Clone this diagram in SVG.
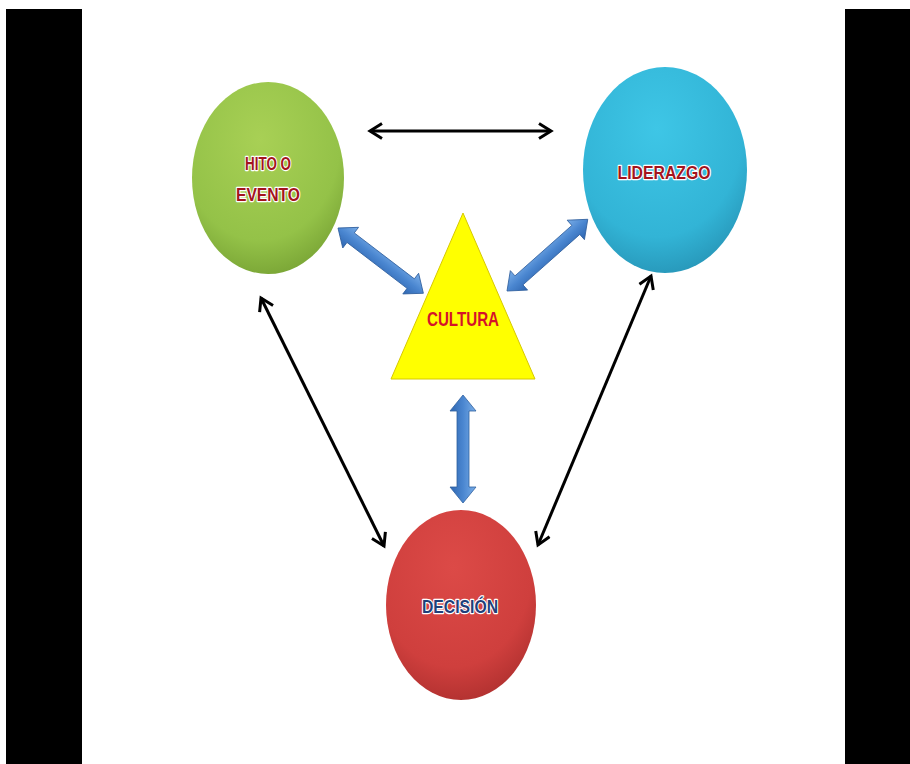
<svg xmlns="http://www.w3.org/2000/svg" width="910" height="764" viewBox="0 0 910 764">
<style>
.lbl{font-family:"Liberation Sans",Arial,sans-serif;font-weight:bold;font-size:19px;text-anchor:middle;stroke:#ffffff;stroke-width:2.4px;paint-order:stroke;stroke-linejoin:round}
.red{fill:#a3141c}
.navy{fill:#1f3f7a}
.conn{fill:none;stroke:#000;stroke-width:3}
.blk{fill:url(#gBlue);stroke:#2f5f9e;stroke-width:0.8}
</style>
<defs>
<radialGradient id="gGreen" cx="0.45" cy="0.3" r="0.75">
<stop offset="0" stop-color="#a8d055"/><stop offset="0.7" stop-color="#94c248"/><stop offset="1" stop-color="#76a133"/>
</radialGradient>
<radialGradient id="gCyan" cx="0.45" cy="0.3" r="0.75">
<stop offset="0" stop-color="#3ec6e6"/><stop offset="0.7" stop-color="#32b4d6"/><stop offset="1" stop-color="#2693b5"/>
</radialGradient>
<radialGradient id="gRed" cx="0.45" cy="0.3" r="0.75">
<stop offset="0" stop-color="#dc4a47"/><stop offset="0.7" stop-color="#cf3f3d"/><stop offset="1" stop-color="#ad2f2e"/>
</radialGradient>
<linearGradient id="gBlue" x1="0" y1="0" x2="0" y2="1">
<stop offset="0" stop-color="#7aaee8"/><stop offset="0.5" stop-color="#4a86d0"/><stop offset="1" stop-color="#2f66b0"/>
</linearGradient>
<marker id="ah" viewBox="0 0 12 12" refX="10" refY="6" markerWidth="6" markerHeight="6" orient="auto-start-reverse" markerUnits="strokeWidth">
<polyline points="2,1 10,6 2,11" fill="none" stroke="#000" stroke-width="2" stroke-linejoin="miter"/>
</marker>
<path id="dbl" d="M0,0 L16,-13 L16,-6 L92,-6 L92,-13 L108,0 L92,13 L92,6 L16,6 L16,13 Z"/>
</defs>
<rect x="0" y="0" width="910" height="764" fill="#ffffff"/>
<rect x="6" y="9" width="76" height="755" fill="#000"/>
<rect x="845" y="9" width="65" height="755" fill="#000"/>
<g id="connectors">
<line class="conn" x1="370" y1="131" x2="551" y2="131" marker-start="url(#ah)" marker-end="url(#ah)"/>
<line class="conn" x1="261" y1="298" x2="384" y2="546" marker-start="url(#ah)" marker-end="url(#ah)"/>
<line class="conn" x1="651" y1="276" x2="538" y2="545" marker-start="url(#ah)" marker-end="url(#ah)"/>
<use href="#dbl" class="blk" transform="translate(338,228) rotate(37.4) scale(0.995,1)"/>
<use href="#dbl" class="blk" transform="translate(507,291) rotate(-41.6)"/>
<use href="#dbl" class="blk" transform="translate(463,395) rotate(90)"/>
</g>
<g id="hito">
<ellipse cx="268" cy="178" rx="76" ry="96" fill="url(#gGreen)"/>
<text class="lbl red" x="268" y="170" textLength="46" lengthAdjust="spacingAndGlyphs">HITO O</text>
<text class="lbl red" x="268" y="201" textLength="64" lengthAdjust="spacingAndGlyphs">EVENTO</text>
</g>
<g id="liderazgo">
<ellipse cx="665" cy="170" rx="82" ry="103" fill="url(#gCyan)"/>
<text class="lbl red" x="664" y="179" textLength="93" lengthAdjust="spacingAndGlyphs">LIDERAZGO</text>
</g>
<g id="cultura">
<polygon points="463,213 535,379 391,379" fill="#ffff00" stroke="#d6c800" stroke-width="1"/>
<text x="463" y="326" font-family="'Liberation Sans',Arial,sans-serif" font-weight="bold" font-size="21" fill="#d4132a" text-anchor="middle" textLength="72" lengthAdjust="spacingAndGlyphs">CULTURA</text>
</g>
<g id="decision">
<ellipse cx="461" cy="605" rx="75" ry="95" fill="url(#gRed)"/>
<text class="lbl navy" x="460" y="613" textLength="76" lengthAdjust="spacingAndGlyphs">DECISIÓN</text>
</g>
</svg>
